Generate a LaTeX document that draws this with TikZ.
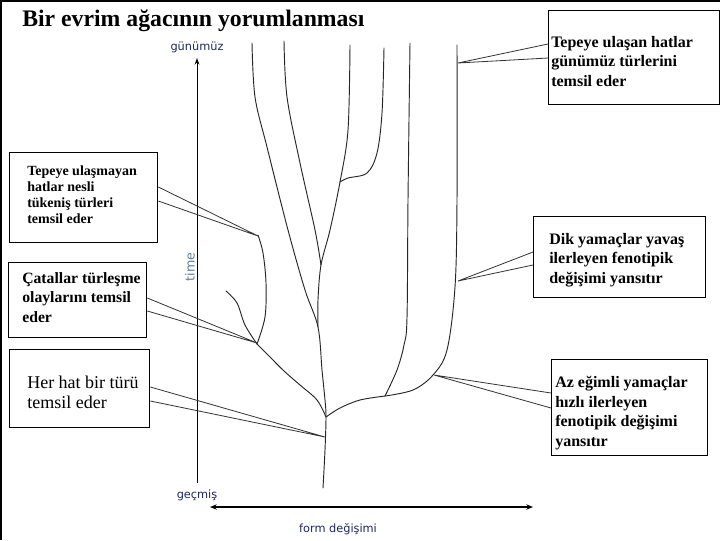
\documentclass[tikz,border=0pt]{standalone}
\usepackage{fontspec}
\setmainfont{Liberation Serif}
\newfontfamily\labelfont{DejaVu Sans}
\usetikzlibrary{arrows.meta}
\definecolor{navy}{HTML}{1C2A5E}
\definecolor{timeblue}{HTML}{5B7EA0}
\newcommand\bxfontA{\bfseries\fontsize{12}{14.6}\selectfont}
\newcommand\bxfontB{\bfseries\fontsize{10.5}{12}\selectfont}
\newcommand\bxfontC{\bfseries\fontsize{11.8}{14.6}\selectfont}
\newcommand\bxfontD{\fontsize{13.5}{15}\selectfont}
\begin{document}
\begin{tikzpicture}[x=0.75pt,y=-0.75pt,
  tree/.style={line width=0.7pt, draw=black!85, line cap=round, line join=round},
  callout/.style={line width=0.6pt, draw=black!80},
  box/.style={draw=black, line width=1pt, inner sep=0pt, anchor=north west, fill=white},
  boxtext/.style={anchor=base west, inner sep=0pt, align=left},
  axislabel/.style={font=\labelfont\fontsize{8.5}{10}\selectfont, text=navy, inner sep=0pt},
  axis/.style={draw=black, line width=0.75pt}]
\useasboundingbox (0,0) rectangle (720,540);
\fill[white] (0,0) rectangle (720,540);
% frame
\draw[line width=1.5pt] (1,540) -- (1,1) -- (720,1);
% title
\node[anchor=base west, inner sep=0pt, font=\bfseries\fontsize{17.8}{20}\selectfont] (title) at (22,26) {Bir evrim ağacının yorumlanması};

% axes
\coordinate (ybot) at (197,483);
\coordinate (ytop) at (197,58);
\draw[axis, -{Stealth[length=5pt,width=3.5pt]}] (ybot) -- (ytop);
\node[axislabel] (now) at (197,47) {günümüz};
\node[axislabel] (past) at (197,495) {geçmiş};
\node[font=\labelfont\fontsize{9.5}{11}\selectfont, text=timeblue, rotate=90, inner sep=0pt] (time) at (190,267) {time};
\coordinate (xl) at (210,507);
\coordinate (xr) at (533,507);
\draw[line width=1.5pt, {Stealth[length=5pt,width=4pt]}-{Stealth[length=5pt,width=4pt]}] (xl) -- (xr);
\node[axislabel] (form) at (338,529) {form değişimi};

% tree
\draw[tree] plot[smooth, tension=0.55] coordinates {(252,43) (255,97) (267,147) (288,230) (305,290) (318,327) (322,370) (325,400) (326,417) (325,450) (323,488)};
\draw[tree] plot[smooth, tension=0.55] coordinates {(284,41) (287,97) (300,163) (315,230) (321,265)};
\draw[tree] plot[smooth, tension=0.55] coordinates {(350,45) (348,130) (340,182) (330,230) (321,265) (318,300) (318,327)};
\draw[tree] plot[smooth, tension=0.55] coordinates {(340,182) (348,178) (367,173) (377,153) (382,113) (384,48)};
\draw[tree] plot[smooth, tension=0.55] coordinates {(326,417) (317,400) (300,385) (284,371) (270,357) (257,344)};
\draw[tree] plot[smooth, tension=0.55] coordinates {(257,344) (265,317) (266,283) (263,253) (258,235)};
\draw[tree] plot[smooth, tension=0.55] coordinates {(257,344) (245,325) (237,303) (226,291)};
\draw[tree] plot[smooth, tension=0.55] coordinates {(326,417) (340,408) (360,400) (385,396)};
\draw[tree] plot[smooth, tension=0.55] coordinates {(385,396) (397,370) (404,345) (407,318) (408,200) (410,43)};
\draw[tree] plot[smooth, tension=0.55] coordinates {(385,396) (413,390) (433,375) (447,350) (455,287) (457,200) (457,45)};

% callout tips
\coordinate (t1) at (458,63);
\coordinate (t2) at (258,236);
\coordinate (t3) at (257,343);
\coordinate (t4) at (325,437);
\coordinate (t5) at (458,281);
\coordinate (t6) at (434,375);

% boxes
\node[box, minimum width=128.25pt, minimum height=70.5pt] (b1) at (548,10) {};
\node[box, minimum width=111pt, minimum height=67.5pt] (b2) at (9,152) {};
\node[box, minimum width=103.5pt, minimum height=56.25pt] (b3) at (8,262) {};
\node[box, minimum width=105pt, minimum height=58.5pt] (b4) at (9,349) {};
\node[box, minimum width=129pt, minimum height=60.75pt] (b5) at (533,216) {};
\node[box, minimum width=117pt, minimum height=72pt] (b6) at (551,359) {};

% callout lines
\draw[callout] ([shift={(0,34)}]b1.north west) -- (t1) -- ([shift={(0,48)}]b1.north west);
\draw[callout] ([shift={(0,35)}]b2.north east) -- (t2) -- ([shift={(0,49)}]b2.north east);
\draw[callout] ([shift={(0,36)}]b3.north east) -- (t3) -- ([shift={(0,49)}]b3.north east);
\draw[callout] ([shift={(0,38)}]b4.north east) -- (t4) -- ([shift={(0,52)}]b4.north east);
\draw[callout] ([shift={(0,36)}]b5.north west) -- (t5) -- ([shift={(0,49)}]b5.north west);
\draw[callout] ([shift={(0,34)}]b6.north west) -- (t6) -- ([shift={(0,49)}]b6.north west);

% box texts (base = last line)
\node[boxtext, font=\bxfontA] (b1t) at (551,86) {Tepeye ulaşan hatlar\\günümüz türlerini\\temsil eder};
\node[boxtext, font=\bxfontB] (b2t) at (27,223) {Tepeye ulaşmayan\\hatlar nesli\\tükeniş türleri\\temsil eder};
\node[boxtext, font=\bxfontC] (b3t) at (22,322) {Çatallar türleşme\\olaylarını temsil\\eder};
\node[boxtext, font=\bxfontD] (b4t) at (27,408) {Her hat bir türü\\temsil eder};
\node[boxtext, font=\bxfontA] (b5t) at (549,283) {Dik yamaçlar yavaş\\ilerleyen fenotipik\\değişimi yansıtır};
\node[boxtext, font=\bxfontA] (b6t) at (555,446) {Az eğimli yamaçlar\\hızlı ilerleyen\\fenotipik değişimi\\yansıtır};
\end{tikzpicture}
\end{document}
